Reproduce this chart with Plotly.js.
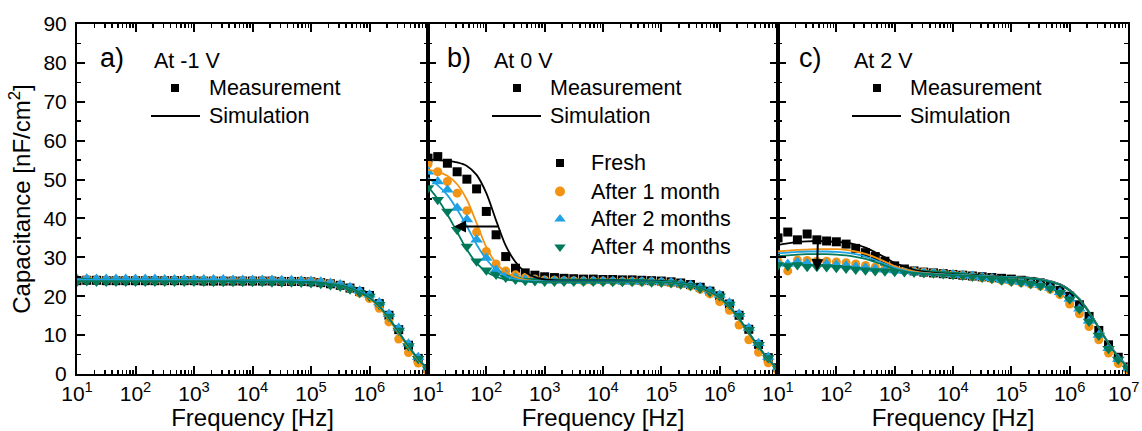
<!DOCTYPE html>
<html>
<head>
<meta charset="utf-8">
<script src="https://cdn.plot.ly/plotly-3.0.1.min.js"></script>
<style>html,body{margin:0;padding:0;background:#fff;}#chart{width:1142px;height:431px;}</style>
</head>
<body>
<div id="chart"></div>
<script>
// Frequencies [Hz]
const freq = [10, 14.7, 21.5, 31.6, 46.4, 68.1, 100, 147, 215, 316, 464, 681,
  1000, 1470, 2150, 3160, 4640, 6810, 1e4, 1.47e4, 2.15e4, 3.16e4, 4.64e4, 6.81e4,
  1e5, 1.47e5, 2.15e5, 3.16e5, 4.64e5, 6.81e5, 1e6, 1.47e6, 2.15e6, 3.16e6, 4.64e6, 6.81e6, 1e7];

const seriesNames = ['Fresh', 'After 1 month', 'After 2 months', 'After 4 months'];
const panelLabels = ['a)', 'b)', 'c)'];
const panelBias = ['At -1 V', 'At 0 V', 'At 2 V'];
const xTickLabels = ['10<sup>1</sup>','10<sup>2</sup>','10<sup>3</sup>','10<sup>4</sup>','10<sup>5</sup>','10<sup>6</sup>','10<sup>7</sup>'];

// ---- Panel a) At -1 V : measurement ----
const aFreshMeas = [24.0,24.1,24.1,24.0,24.0,24.0,24.0,24.0,24.0,24.0,24.0,24.0, 24.0,23.9,23.9,23.9,23.9,23.9,23.9,23.9,23.9,23.8,23.8,23.8, 23.7,23.5,23.2,22.8,22.1,21.2,20.2,18.1,15.1,11.4,7.4,4.0,1.4];
const aM1Meas = [24.2,24.3,24.2,24.2,24.2,24.2,24.2,24.2,24.1,24.1,24.1,24.1, 24.1,24.1,24.1,24.0,24.0,24.0,24.0,24.0,24.0,23.9,23.9,23.9, 23.8,23.6,23.3,22.8,22.0,20.8,19.4,16.9,13.4,9.0,5.5,2.8,0.8];
const aM2Meas = [24.4,24.5,24.4,24.4,24.4,24.4,24.4,24.4,24.4,24.3,24.3,24.3, 24.3,24.3,24.3,24.3,24.2,24.2,24.2,24.2,24.2,24.1,24.1,24.0, 23.9,23.7,23.4,23.0,22.3,21.4,20.4,18.4,15.4,11.8,7.8,4.3,1.6];
const aM4Meas = [23.8,23.9,23.8,23.8,23.8,23.8,23.8,23.8,23.8,23.8,23.8,23.8, 23.8,23.8,23.7,23.7,23.7,23.7,23.7,23.7,23.6,23.6,23.6,23.5, 23.4,23.2,22.9,22.5,21.8,20.9,19.9,17.8,14.8,11.2,7.2,3.9,1.3];
// ---- Panel a) simulation ----
const aFreshSim = [24.0,24.0,24.0,24.0,24.0,24.0,24.0,24.0,24.0,24.0,24.0,24.0, 24.0,24.0,24.0,24.0,24.0,24.0,24.0,24.0,23.9,23.9,23.9,23.9, 23.8,23.6,23.3,22.9,22.2,21.1,19.6,17.3,14.2,10.6,7.0,3.8,1.2];
const aM1Sim = [24.1,24.1,24.1,24.1,24.1,24.1,24.1,24.1,24.1,24.1,24.1,24.1, 24.1,24.1,24.1,24.1,24.1,24.0,24.0,24.0,24.0,24.0,24.0,23.9, 23.9,23.7,23.4,22.9,22.1,21.0,19.4,17.1,14.0,10.4,6.8,3.6,1.1];
const aM2Sim = [24.2,24.2,24.2,24.2,24.2,24.2,24.2,24.2,24.2,24.2,24.2,24.2, 24.2,24.2,24.2,24.2,24.1,24.1,24.1,24.1,24.1,24.1,24.0,24.0, 23.9,23.7,23.4,23.0,22.3,21.2,19.8,17.5,14.4,10.8,7.2,3.9,1.3];
const aM4Sim = [23.9,23.9,23.9,23.9,23.9,23.9,23.9,23.9,23.9,23.9,23.9,23.9, 23.9,23.9,23.9,23.9,23.9,23.8,23.8,23.8,23.8,23.8,23.8,23.7, 23.7,23.5,23.2,22.8,22.1,21.0,19.6,17.4,14.3,10.7,7.1,3.8,1.2];

// ---- Panel b) At 0 V : measurement ----
const bFreshMeas = [55.5,55.9,54.2,52.0,50.1,47.6,41.8,35.8,30.2,27.2,26.0,25.4, 25.0,24.8,24.6,24.5,24.4,24.4,24.3,24.3,24.2,24.2,24.1,24.0, 23.9,23.7,23.4,23.0,22.3,21.3,20.1,18.0,15.1,11.5,7.6,4.2,1.6];
const bM1Meas = [54.0,52.0,49.5,46.5,42.0,36.5,31.5,28.3,26.5,25.5,24.8,24.4, 24.2,24.1,24.0,24.0,23.9,23.9,23.9,23.8,23.8,23.8,23.7,23.7, 23.6,23.4,23.1,22.6,21.8,20.6,18.6,16.4,12.6,8.8,5.6,2.9,0.9];
const bM2Meas = [52.0,49.5,47.4,42.7,39.7,34.5,29.8,26.8,25.6,24.8,24.3,24.1, 24.0,24.0,24.0,23.9,23.9,23.9,23.9,23.9,23.8,23.8,23.8,23.8, 23.7,23.6,23.3,22.9,22.3,21.4,20.3,18.3,15.4,11.8,7.9,4.4,1.7];
const bM4Meas = [47.8,44.8,41.8,37.1,32.8,29.0,26.7,25.6,24.8,24.3,24.0,23.9, 23.8,23.8,23.8,23.8,23.8,23.8,23.7,23.7,23.7,23.7,23.7,23.6, 23.5,23.4,23.1,22.7,22.0,21.1,20.0,17.9,15.0,11.4,7.5,4.1,1.4];
// ---- Panel b) simulation ----
const bFreshSim = [55.2,55.0,54.8,54.4,53.5,51.2,46.5,39.5,33.0,28.8,26.2,24.9, 24.3,24.1,24.0,24.0,24.0,24.0,24.0,24.0,24.0,23.9,23.9,23.9, 23.8,23.6,23.3,22.9,22.2,21.1,19.6,17.3,14.2,10.6,7.0,3.8,1.2];
const bM1Sim = [52.5,52.0,51.0,48.8,44.8,38.8,32.6,28.5,26.2,24.9,24.2,23.9, 23.7,23.7,23.7,23.7,23.7,23.7,23.7,23.7,23.7,23.7,23.7,23.7, 23.6,23.5,23.2,22.8,22.1,21.0,19.5,17.2,14.1,10.5,6.9,3.7,1.1];
const bM2Sim = [50.4,48.5,46.0,42.3,38.0,33.3,29.5,26.8,25.2,24.4,24.0,23.9, 23.8,23.8,23.8,23.8,23.8,23.8,23.8,23.8,23.8,23.8,23.8,23.8, 23.7,23.6,23.3,22.9,22.2,21.2,19.7,17.4,14.3,10.7,7.1,3.9,1.3];
const bM4Sim = [48.2,45.0,41.0,36.5,32.0,28.5,26.3,25.0,24.3,24.0,23.8,23.7, 23.7,23.7,23.7,23.7,23.7,23.7,23.7,23.7,23.7,23.7,23.7,23.7, 23.6,23.5,23.2,22.8,22.1,21.1,19.6,17.3,14.2,10.6,7.0,3.8,1.2];

// ---- Panel c) At 2 V : measurement ----
const cFreshMeas = [35.0,36.5,34.5,36.0,34.5,34.2,34.0,33.4,32.3,31.2,30.2,29.0, 27.8,27.0,26.5,26.2,26.0,25.8,25.6,25.4,25.2,25.0,24.8,24.6, 24.4,24.1,23.8,23.4,22.6,21.5,20.0,17.8,14.8,11.2,7.5,4.3,1.8];
const cM1Meas = [29.0,26.5,29.3,29.2,29.0,29.0,28.8,28.6,28.3,27.9,27.5,27.1, 26.8,26.6,26.4,26.2,26.0,25.8,25.6,25.4,25.1,24.8,24.5,24.1, 23.8,23.5,23.1,22.6,21.8,20.4,18.0,15.5,12.2,8.8,5.4,2.7,1.0];
const cM2Meas = [28.5,28.3,28.8,28.5,28.4,28.3,28.1,27.9,27.6,27.3,27.0,26.8, 26.6,26.5,26.3,26.1,26.0,25.8,25.6,25.4,25.2,24.9,24.6,24.2, 23.9,23.6,23.3,22.8,22.1,21.0,19.3,16.8,13.6,10.0,6.6,3.8,1.5];
const cM4Meas = [28.0,27.8,28.0,27.6,27.6,27.5,27.3,27.1,26.9,26.7,26.5,26.4, 26.3,26.2,26.1,26.0,25.9,25.7,25.5,25.3,25.1,24.8,24.5,24.1, 23.8,23.5,23.2,22.7,22.0,20.9,19.2,16.7,13.5,9.9,6.5,3.7,1.4];
// ---- Panel c) simulation ----
const cFreshSim = [33.2,33.6,33.9,34.1,34.2,34.1,34.0,33.8,33.3,32.5,31.3,30.0, 28.6,27.6,26.8,26.3,26.0,25.8,25.6,25.5,25.4,25.3,25.2,25.1, 25.0,24.9,24.7,24.4,23.9,23.1,21.6,19.3,16.0,12.0,8.0,4.5,1.8];
const cM1Sim = [31.5,31.7,31.9,32.0,32.1,32.1,32.1,31.9,31.5,30.9,30.0,28.9, 27.7,26.9,26.4,26.0,25.8,25.6,25.5,25.4,25.3,25.2,25.1,25.0, 24.9,24.8,24.6,24.3,23.8,23.0,21.5,19.2,15.9,11.9,7.9,4.4,1.7];
const cM2Sim = [31.0,31.2,31.4,31.5,31.5,31.5,31.4,31.2,30.8,30.2,29.3,28.3, 27.3,26.6,26.1,25.9,25.7,25.6,25.5,25.4,25.3,25.2,25.1,25.0, 24.9,24.8,24.6,24.3,23.8,23.0,21.5,19.2,15.9,11.9,7.9,4.4,1.7];
const cM4Sim = [30.3,30.5,30.7,30.8,30.8,30.8,30.7,30.5,30.1,29.6,28.8,27.9, 27.0,26.4,26.0,25.8,25.6,25.5,25.4,25.3,25.2,25.1,25.0,24.9, 24.8,24.7,24.5,24.2,23.7,22.9,21.4,19.1,15.8,11.8,7.8,4.3,1.6];

// ---------------- styles ----------------
const colors = ['#000000', '#F39314', '#1FA2E3', '#00795A'];
const symbols = ['square', 'circle', 'triangle-up', 'triangle-down'];
const msize = [9, 9, 11, 11];
const FONT = '"Liberation Sans", Arial, Helvetica, sans-serif';

const panels = [
  {meas: [aFreshMeas, aM1Meas, aM2Meas, aM4Meas], sim: [aFreshSim, aM1Sim, aM2Sim, aM4Sim], xa: 'x', ya: 'y'},
  {meas: [bFreshMeas, bM1Meas, bM2Meas, bM4Meas], sim: [bFreshSim, bM1Sim, bM2Sim, bM4Sim], xa: 'x2', ya: 'y2'},
  {meas: [cFreshMeas, cM1Meas, cM2Meas, cM4Meas], sim: [cFreshSim, cM1Sim, cM2Sim, cM4Sim], xa: 'x3', ya: 'y3'}
];

const traces = [];
panels.forEach(p => {
  p.meas.forEach((vals, i) => {
    traces.push({x: freq, y: vals, xaxis: p.xa, yaxis: p.ya, type: 'scatter', mode: 'markers',
      name: seriesNames[i] + ' (meas.)', showlegend: false, cliponaxis: true,
      marker: {symbol: symbols[i], size: msize[i], color: colors[i]}});
  });
  p.sim.forEach((vals, i) => {
    traces.push({x: freq, y: vals, xaxis: p.xa, yaxis: p.ya, type: 'scatter', mode: 'lines',
      name: seriesNames[i] + ' (sim.)', showlegend: false,
      line: {color: colors[i], width: 1.8, shape: 'spline', smoothing: 0.8}});
  });
});

// ----- legend keys drawn on a pixel-based overlay axis pair -----
const L = 77, T = 24, R = 1128, B = 374;
const keyMarkers = [
  {x: 175, y: 88, s: 0}, {x: 517, y: 88, s: 0}, {x: 877, y: 88, s: 0},
  {x: 560, y: 163, s: 0}, {x: 560, y: 191.5, s: 1}, {x: 560, y: 219, s: 2}, {x: 560, y: 247, s: 3}
];
keyMarkers.forEach(k => {
  traces.push({x: [k.x], y: [k.y], xaxis: 'x4', yaxis: 'y4', type: 'scatter', mode: 'markers',
    showlegend: false, hoverinfo: 'skip',
    marker: {symbol: symbols[k.s], size: k.s === 0 ? 8 : 10, color: colors[k.s]}});
});
const keyLines = [[151, 200, 116], [492, 541, 116], [852, 901, 116]];
keyLines.forEach(l => {
  traces.push({x: [l[0], l[1]], y: [l[2], l[2]], xaxis: 'x4', yaxis: 'y4', type: 'scatter', mode: 'lines',
    showlegend: false, hoverinfo: 'skip', line: {color: '#000', width: 1.8}});
});

// ---------------- axes ----------------
const doms = [[0, 351 / 1051], [351 / 1051, 701 / 1051], [701 / 1051, 1]];
const majorVals = [10, 100, 1000, 1e4, 1e5, 1e6, 1e7];
const minorVals = [];
for (let d = 10; d < 1e7; d *= 10) for (let m = 2; m <= 9; m++) minorVals.push(m * d);

function xAxis(i) {
  const txt = xTickLabels.slice();
  txt[6] = '';  // last label of panel c drawn as an annotation so it stays inside the page
  return {
    type: 'log', range: [1, 7.0001], domain: doms[i], anchor: i === 0 ? 'y' : 'y' + (i + 1),
    showline: true, linecolor: '#000', linewidth: 2, mirror: 'allticks',
    ticks: 'inside', ticklen: 8, tickwidth: 2, tickcolor: '#000',
    tickmode: 'array', tickvals: majorVals, ticktext: txt,
    minor: {tickmode: 'array', tickvals: minorVals, ticks: 'inside', ticklen: 4, tickwidth: 1.5, tickcolor: '#000', showgrid: false},
    showgrid: false, zeroline: false,
    tickfont: {family: FONT, size: 21, color: '#000'},
    title: {text: 'Frequency [Hz]', font: {family: FONT, size: 24, color: '#000'}, standoff: 4}
  };
}
function yAxis(i) {
  return {
    range: [0, 90], domain: [0, 1], anchor: i === 0 ? 'x' : 'x' + (i + 1),
    showline: true, linecolor: '#000', linewidth: 2, mirror: 'allticks',
    ticks: 'inside', ticklen: 8, tickwidth: 2, tickcolor: '#000',
    tickmode: 'linear', tick0: 0, dtick: 10,
    minor: {dtick: 5, ticks: 'inside', ticklen: 4, tickwidth: 1.5, tickcolor: '#000', showgrid: false},
    showgrid: false, zeroline: false, showticklabels: i === 0,
    ticklabelstandoff: 4,
    tickfont: {family: FONT, size: 21, color: '#000'},
    title: i === 0 ? {text: 'Capacitance [nF/cm<sup>2</sup>]', font: {family: FONT, size: 24, color: '#000'}, standoff: 6} : {text: ''}
  };
}

// ---------------- annotations ----------------
const px = x => (x - L) / (R - L);
const py = y => (B - y) / (B - T);
const ann = [];
const labelX = [98, 445, 797];
const biasX = [152, 492, 852];
const measX = [207, 548, 908];
for (let i = 0; i < 3; i++) {
  ann.push({xref: 'paper', yref: 'paper', x: px(labelX[i]), y: py(58), xanchor: 'left', yanchor: 'middle',
    text: panelLabels[i], showarrow: false, font: {family: FONT, size: 27, color: '#000'}});
  ann.push({xref: 'paper', yref: 'paper', x: px(biasX[i]), y: py(61), xanchor: 'left', yanchor: 'middle',
    text: panelBias[i], showarrow: false, font: {family: FONT, size: 21.5, color: '#000'}});
  ann.push({xref: 'paper', yref: 'paper', x: px(measX[i]), y: py(88), xanchor: 'left', yanchor: 'middle',
    text: 'Measurement', showarrow: false, font: {family: FONT, size: 21.5, color: '#000'}});
  ann.push({xref: 'paper', yref: 'paper', x: px(measX[i]), y: py(116), xanchor: 'left', yanchor: 'middle',
    text: 'Simulation', showarrow: false, font: {family: FONT, size: 21.5, color: '#000'}});
}
const serY = [163, 191.5, 219, 247];
seriesNames.forEach((n, i) => {
  ann.push({xref: 'paper', yref: 'paper', x: px(589), y: py(serY[i]), xanchor: 'left', yanchor: 'middle',
    text: n, showarrow: false, font: {family: FONT, size: 21.5, color: '#000'}});
});
// last x tick label of panel c, kept inside the page edge
ann.push({xref: 'paper', yref: 'paper', x: px(1141), y: py(378), xanchor: 'right', yanchor: 'top',
  text: xTickLabels[6], showarrow: false, borderpad: 0, font: {family: FONT, size: 21, color: '#000'}});
// arrows
ann.push({xref: 'paper', yref: 'paper', x: px(454), y: py(226.5), ax: 46, ay: 0, text: '',
  showarrow: true, arrowhead: 2, arrowsize: 1.2, arrowwidth: 2, arrowcolor: '#000', standoff: 0});
ann.push({xref: 'paper', yref: 'paper', x: px(817), y: py(271), ax: 1, ay: -34, text: '',
  showarrow: true, arrowhead: 2, arrowsize: 1.2, arrowwidth: 2, arrowcolor: '#000', standoff: 0});

const layout = {
  width: 1142, height: 431,
  margin: {l: L, r: 1142 - R, t: T, b: 431 - B},
  paper_bgcolor: '#fff', plot_bgcolor: 'rgba(0,0,0,0)',
  showlegend: false,
  font: {family: FONT, color: '#000'},
  xaxis: xAxis(0), xaxis2: xAxis(1), xaxis3: xAxis(2),
  yaxis: yAxis(0), yaxis2: yAxis(1), yaxis3: yAxis(2),
  xaxis4: {domain: [0, 1], range: [L, R], visible: false, anchor: 'y4', fixedrange: true},
  yaxis4: {domain: [0, 1], range: [B, T], visible: false, anchor: 'x4', fixedrange: true},
  annotations: ann
};

Plotly.newPlot('chart', traces, layout, {staticPlot: true});
</script>
</body>
</html>
